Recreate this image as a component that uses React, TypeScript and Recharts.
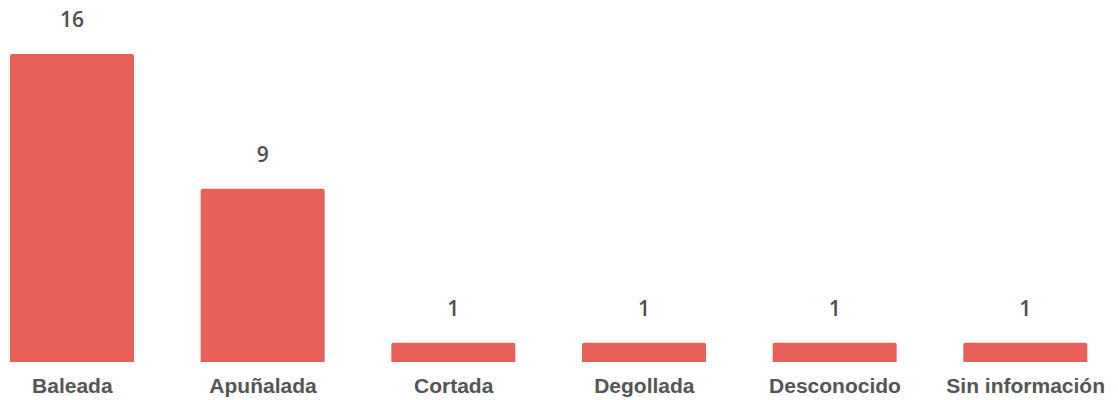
import { Bar, BarChart, LabelList, XAxis, YAxis } from "recharts";

const categories = ["Baleada", "Apuñalada", "Cortada", "Degollada", "Desconocido", "Sin información"];
const counts = [16, 9, 1, 1, 1, 1];

const data = categories.map((name, i) => ({ name, value: counts[i] }));

export default function App() {
  return (
    <div style={{ position: "absolute", left: 0, top: 0, width: 1118, height: 400, overflow: "hidden", background: "#fff" }}>
      <div style={{ position: "absolute", left: -23, top: 0 }}>
        <BarChart width={1144} height={400} data={data} margin={{ top: 54, right: 0, bottom: 0, left: 0 }}>
          <XAxis
            dataKey="name"
            axisLine={false}
            tickLine={false}
            height={38}
            tickMargin={10}
            interval={0}
            tick={{ fill: "#555", fontSize: 21, fontFamily: "Liberation Sans", fontWeight: 700 }}
          />
          <YAxis hide domain={[0, 16]} />
          <Bar dataKey="value" fill="#E8605A" barSize={124} radius={[2, 2, 0, 0]} isAnimationActive={false}>
            <LabelList
              dataKey="value"
              position="top"
              offset={27}
              style={{ fill: "#4d4d4d", fontSize: 21, fontFamily: "Open Sans", fontWeight: 600 }}
            />
          </Bar>
        </BarChart>
      </div>
    </div>
  );
}
